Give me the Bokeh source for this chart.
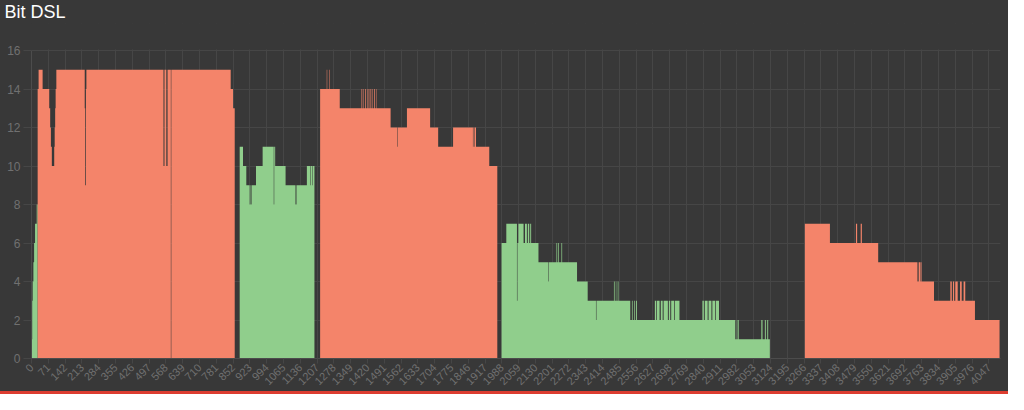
import math
from bokeh.plotting import figure
from bokeh.models import FixedTicker, Range1d, Div, BoxAnnotation
from bokeh.layouts import column
from bokeh.embed import file_html
from bokeh.resources import INLINE

# ---- axis ticks ----
x_tick_labels = [0, 71, 142, 213, 284, 355, 426, 497, 568, 639, 710, 781, 852, 923,
                 994, 1065, 1136, 1207, 1278, 1349, 1420, 1491, 1562, 1633, 1704, 1775,
                 1846, 1917, 1988, 2059, 2130, 2201, 2272, 2343, 2414, 2485, 2556, 2627,
                 2698, 2769, 2840, 2911, 2982, 3053, 3124, 3195, 3266, 3337, 3408, 3479,
                 3550, 3621, 3692, 3763, 3834, 3905, 3976, 4047]
y_tick_labels = [0, 2, 4, 6, 8, 10, 12, 14, 16]
n_tones = 4096
y_max = 16
chart_title = "Bit DSL"

# ---- bit loading per tone, as runs: first tone of each run and its bits ----
# segment 1 (green)
seg1_tone = [1, 3, 5, 8, 11, 15, 22]
seg1_bits = [1, 3, 4, 5, 6, 7, 8]
seg1_end = 26
# segment 2 (salmon)
seg2_tone = [26, 30, 47, 75, 79, 82, 86, 96, 98, 100, 102, 105, 225, 227, 230, 232,
             558, 562, 570, 575, 589, 591, 842, 852]
seg2_bits = [14, 15, 14, 13, 12, 11, 10, 11, 12, 13, 14, 15, 13, 9, 14, 15,
             10, 15, 10, 15, 0, 15, 14, 13]
seg2_end = 859
# segment 3 (green)
seg3_tone = [880, 894, 908, 922, 925, 927, 930, 949, 977, 1024, 1026, 1030, 1074,
             1116, 1120, 1164, 1178, 1180, 1186, 1188]
seg3_bits = [11, 10, 9, 8, 9, 8, 9, 10, 11, 8, 11, 10, 9,
             8, 9, 10, 9, 10, 9, 10]
seg3_end = 1196
# segment 4 (salmon)
seg4_tone = [1220, 1248, 1250, 1258, 1260, 1303, 1395, 1398, 1402, 1404, 1410, 1413,
             1418, 1420, 1425, 1428, 1433, 1436, 1441, 1443, 1448, 1451, 1456, 1458,
             1518, 1546, 1548, 1587, 1685, 1719, 1782, 1866, 1868, 1872, 1874, 1879, 1935]
seg4_bits = [14, 15, 14, 15, 14, 13, 14, 13, 14, 13, 14, 13,
             14, 13, 14, 13, 14, 13, 14, 13, 14, 13, 14, 13,
             12, 11, 12, 13, 12, 11, 12, 11, 12, 11, 12, 11, 10]
seg4_end = 1969
# segment 5 (green)
seg5_tone = [1987, 2007, 2052, 2054, 2058, 2080, 2086, 2094, 2098, 2104, 2108, 2112,
             2143, 2184, 2186, 2219, 2222, 2226, 2229, 2240, 2243, 2306, 2351, 2386,
             2388, 2462, 2465, 2470, 2472, 2478, 2481, 2531, 2538, 2541, 2548, 2551,
             2555, 2559, 2635, 2640, 2643, 2655, 2660, 2668, 2672, 2690, 2694, 2700,
             2704, 2716, 2719, 2739, 2836, 2842, 2846, 2858, 2862, 2874, 2878, 2890,
             2893, 2906, 2975, 2981, 2984, 2987, 2990, 3085, 3090, 3100, 3104, 3110, 3114]
seg5_bits = [6, 7, 3, 6, 7, 6, 7, 6, 7, 6, 7, 6,
             5, 4, 5, 6, 5, 6, 5, 6, 5, 4, 3, 2,
             3, 4, 3, 4, 3, 4, 3, 2, 3, 2, 3, 2,
             3, 2, 3, 2, 3, 2, 3, 2, 3, 2, 3, 2,
             3, 2, 3, 2, 3, 2, 3, 2, 3, 2, 3, 2,
             3, 2, 1, 2, 1, 2, 1, 2, 1, 2, 1, 2, 1]
seg5_end = 3121
# segment 6 (salmon)
seg6_tone = [3269, 3375, 3485, 3490, 3505, 3510, 3579, 3745, 3750, 3758, 3762, 3764,
             3815, 3884, 3890, 3895, 3900, 3905, 3915, 3925, 3932, 3940, 3947, 3988]
seg6_bits = [7, 6, 7, 6, 7, 6, 5, 4, 5, 4, 5, 4,
             3, 4, 3, 4, 3, 4, 3, 4, 3, 4, 3, 2]
seg6_end = 4092

salmon = "#F4846A"
green = "#90CE8C"
bg = "#383838"
grid = "#464646"
label_col = "#707070"

segments = [
    (seg1_tone, seg1_bits, seg1_end, green),
    (seg2_tone, seg2_bits, seg2_end, salmon),
    (seg3_tone, seg3_bits, seg3_end, green),
    (seg4_tone, seg4_bits, seg4_end, salmon),
    (seg5_tone, seg5_bits, seg5_end, green),
    (seg6_tone, seg6_bits, seg6_end, salmon),
]

# frame runs from just under the title; the value axis tops out at 16 with
# some empty head-room above it (as in the original layout)
p = figure(width=1008, height=391, output_backend="svg", toolbar_location=None,
           x_range=Range1d(0, n_tones), y_range=Range1d(0, 17.405),
           background_fill_color=None, border_fill_color=None,
           min_border_left=31, min_border_right=8, min_border_top=23, min_border_bottom=0,
           title=chart_title, styles={"background-color": bg})
p.outline_line_color = None

p.title.text_color = "white"
p.title.text_font = "Liberation Sans"
p.title.text_font_size = "18px"
p.title.text_font_style = "normal"
p.title.align = "left"
p.title.vertical_align = "top"
p.title.offset = -27
p.title.standoff = 0

for tones, bits, end, col in segments:
    xs = tones + [end]
    ys = bits + [bits[-1]]
    p.varea_step(x=xs, y1=0, y2=ys, step_mode="after", fill_color=col)

# blank head-room above the top gridline
p.add_layout(BoxAnnotation(bottom=y_max + 0.06, fill_color=bg, fill_alpha=1.0,
                           line_color=None))

xa = p.below[0]
ya = p.left[0]
xa.ticker = FixedTicker(ticks=x_tick_labels)
ya.ticker = FixedTicker(ticks=y_tick_labels)
p.xgrid.ticker = FixedTicker(ticks=x_tick_labels)
p.ygrid.ticker = FixedTicker(ticks=y_tick_labels)
ya.bounds = (0, y_max)
xa.major_label_orientation = math.pi / 4
for ax in (xa, ya):
    ax.major_label_text_color = label_col
    ax.major_label_text_font = "Liberation Sans"
    ax.major_tick_in = 0
    ax.minor_tick_line_color = None
    ax.major_tick_line_color = grid
    ax.axis_line_color = "#4c4c4c"
xa.major_label_text_font_size = "11px"
xa.major_tick_out = 5
xa.major_label_standoff = 2
ya.major_label_text_font_size = "12px"
ya.major_tick_out = 8
ya.major_label_standoff = 3
p.xgrid.grid_line_color = grid
p.ygrid.grid_line_color = grid

red = Div(text="", width=1008, height=3, margin=0,
          styles={"background-color": "#DC3D30"})

layout = column(p, red, spacing=0)
open("out.html", "w").write(file_html(layout, INLINE))
